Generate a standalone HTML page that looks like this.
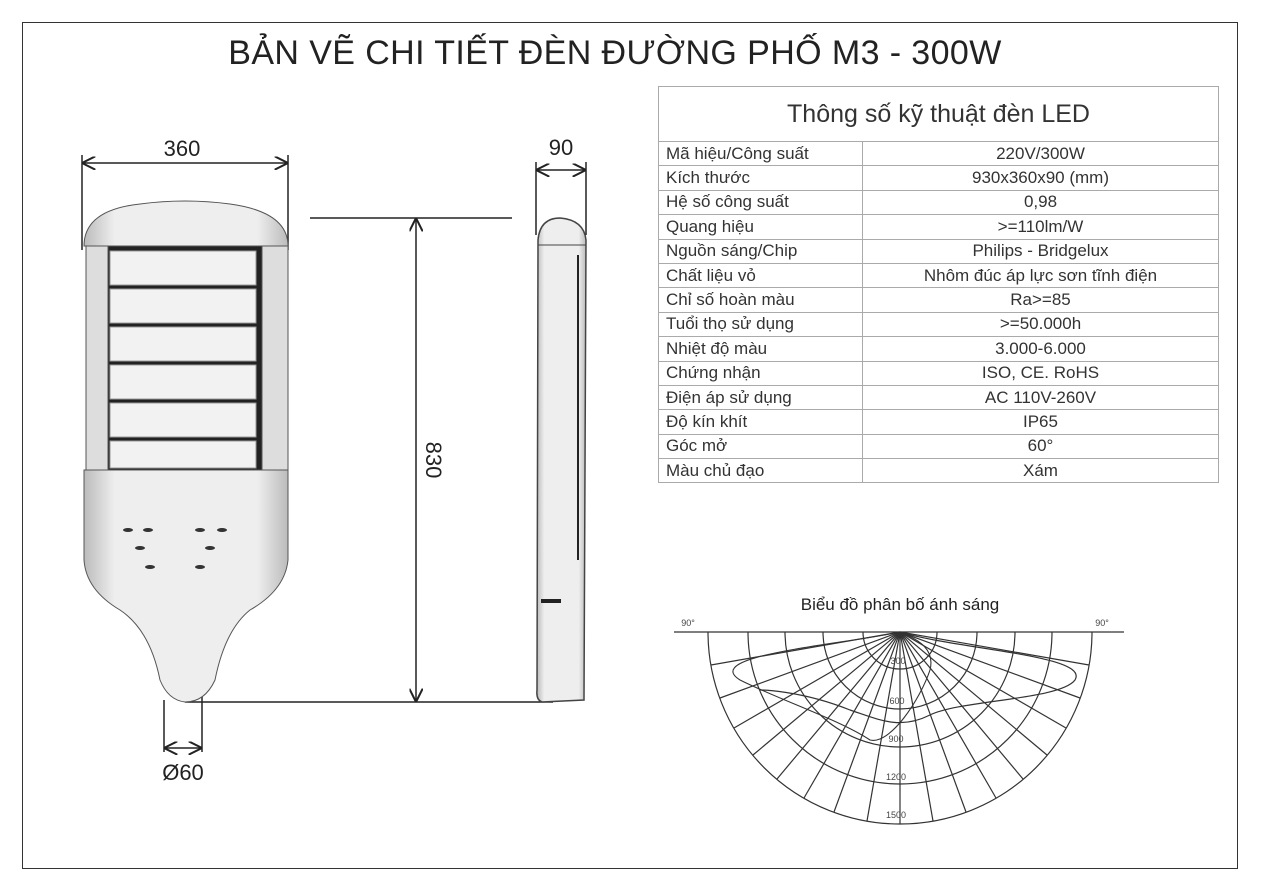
<!DOCTYPE html>
<html><head><meta charset="utf-8"><style>
html,body{margin:0;padding:0;background:#fff;}
body{width:1262px;height:892px;position:relative;overflow:hidden;font-family:"Liberation Sans","DejaVu Sans",sans-serif;color:#222;}
.frame{position:absolute;left:22px;top:22px;width:1216px;height:847px;border:1.5px solid #333;box-sizing:border-box;}
.title{position:absolute;left:0;width:1230px;top:34px;text-align:center;font-size:34px;letter-spacing:0.4px;color:#222;}
table{position:absolute;left:658px;top:86px;width:561px;border-collapse:collapse;font-size:17px;color:#333;}
td{border:1px solid #aaa;height:23.4px;padding:0 0 0 7px;line-height:22px;}
td.v{text-align:center;padding:0;}
td.h{height:54px;text-align:center;font-size:25px;padding:0;}
</style></head><body>
<div class="frame"></div>
<div class="title">BẢN VẼ CHI TIẾT ĐÈN ĐƯỜNG PHỐ M3 - 300W</div>
<table>
<tr><td class="h" colspan="2">Thông số kỹ thuật đèn LED</td></tr>
<tr><td style="width:196px">Mã hiệu/Công suất</td><td class="v">220V/300W</td></tr>
<tr><td>Kích thước</td><td class="v">930x360x90 (mm)</td></tr>
<tr><td>Hệ số công suất</td><td class="v">0,98</td></tr>
<tr><td>Quang hiệu</td><td class="v">&gt;=110lm/W</td></tr>
<tr><td>Nguồn sáng/Chip</td><td class="v">Philips - Bridgelux</td></tr>
<tr><td>Chất liệu vỏ</td><td class="v">Nhôm đúc áp lực sơn tĩnh điện</td></tr>
<tr><td>Chỉ số hoàn màu</td><td class="v">Ra&gt;=85</td></tr>
<tr><td>Tuổi thọ sử dụng</td><td class="v">&gt;=50.000h</td></tr>
<tr><td>Nhiệt độ màu</td><td class="v">3.000-6.000</td></tr>
<tr><td>Chứng nhận</td><td class="v">ISO, CE. RoHS</td></tr>
<tr><td>Điện áp sử dụng</td><td class="v">AC 110V-260V</td></tr>
<tr><td>Độ kín khít</td><td class="v">IP65</td></tr>
<tr><td>Góc mở</td><td class="v">60°</td></tr>
<tr><td>Màu chủ đạo</td><td class="v">Xám</td></tr>
</table>
<svg width="1262" height="892" style="position:absolute;left:0;top:0" xmlns="http://www.w3.org/2000/svg">
<defs>
<linearGradient id="g" x1="0" x2="1"><stop offset="0" stop-color="#bbb"/><stop offset="0.15" stop-color="#eee"/><stop offset="0.85" stop-color="#eee"/><stop offset="1" stop-color="#bbb"/></linearGradient>
<marker id="a" viewBox="0 0 10 10" refX="10" refY="5" markerWidth="9" markerHeight="9" orient="auto-start-reverse"><path d="M0,0 L10,5 L0,10" fill="none" stroke="#222" stroke-width="1.5"/></marker>
</defs>
<g stroke="#222" stroke-width="1.5" fill="none">
<line x1="82" y1="163" x2="288" y2="163" marker-start="url(#a)" marker-end="url(#a)"/>
<line x1="82" y1="155" x2="82" y2="250"/><line x1="288" y1="155" x2="288" y2="250"/>
<line x1="536" y1="170" x2="586" y2="170" marker-start="url(#a)" marker-end="url(#a)"/>
<line x1="536" y1="162" x2="536" y2="235"/><line x1="586" y1="162" x2="586" y2="235"/>
<line x1="310" y1="218" x2="512" y2="218"/>
<line x1="416" y1="218" x2="416" y2="702" marker-start="url(#a)" marker-end="url(#a)"/>
<line x1="185" y1="702" x2="553" y2="702"/>
<line x1="164" y1="700" x2="164" y2="752"/><line x1="202" y1="690" x2="202" y2="752"/>
<line x1="164" y1="748" x2="202" y2="748" marker-start="url(#a)" marker-end="url(#a)"/>
</g>
<g font-size="22" fill="#222" text-anchor="middle">
<text x="182" y="156">360</text>
<text x="561" y="155">90</text>
<text x="183" y="780">Ø60</text>
<text x="0" y="0" transform="translate(426,460) rotate(90)">830</text>
</g>
<g stroke="#555" stroke-width="1">
<path d="M84,246 Q84,210 140,204 Q185,198 230,204 Q288,212 288,246 Z" fill="url(#g)"/>
<path d="M84,470 L288,470 L288,560 Q285,590 250,610 Q225,630 215,680 Q205,702 185,702 Q168,700 160,680 Q150,630 120,610 Q86,590 84,560 Z" fill="url(#g)"/>
<rect x="86" y="246" width="22" height="224" fill="#ddd"/>
<rect x="262" y="246" width="26" height="224" fill="#ddd"/>
<rect x="108" y="246" width="154" height="224" fill="#222"/>
</g>
<g fill="#f2f2f2" stroke="#999">
<rect x="110" y="251" width="146" height="34"/><rect x="110" y="289" width="146" height="34"/>
<rect x="110" y="327" width="146" height="34"/><rect x="110" y="365" width="146" height="34"/>
<rect x="110" y="403" width="146" height="34"/><rect x="110" y="441" width="146" height="27"/>
</g>
<g fill="#333">
<ellipse cx="128" cy="530" rx="5" ry="2"/><ellipse cx="148" cy="530" rx="5" ry="2"/><ellipse cx="200" cy="530" rx="5" ry="2"/><ellipse cx="222" cy="530" rx="5" ry="2"/>
<ellipse cx="140" cy="548" rx="5" ry="2"/><ellipse cx="210" cy="548" rx="5" ry="2"/>
<ellipse cx="150" cy="567" rx="5" ry="2"/><ellipse cx="200" cy="567" rx="5" ry="2"/>
</g>
<path d="M538,240 Q540,218 560,218 Q584,220 586,240 L584,700 L542,702 Q536,700 537,690 Z" fill="url(#g)" stroke="#444" stroke-width="1.5"/>
<line x1="538" y1="245" x2="586" y2="245" stroke="#444"/>
<line x1="578" y1="255" x2="578" y2="560" stroke="#222" stroke-width="2"/>
<rect x="541" y="599" width="20" height="4" fill="#222"/>
<text x="900" y="610" font-size="17" text-anchor="middle" fill="#222">Biểu đồ phân bố ánh sáng</text>
<text x="688" y="626" font-size="9" text-anchor="middle" fill="#444">90°</text>
<text x="1102" y="626" font-size="9" text-anchor="middle" fill="#444">90°</text>
<g stroke="#333" stroke-width="1.2" fill="none">
<line x1="674" y1="632" x2="1124" y2="632"/>
<path d="M863,632 A37,37 0 0 0 937,632"/>
<path d="M823,632 A77,77 0 0 0 977,632"/>
<path d="M785,632 A115,115 0 0 0 1015,632"/>
<path d="M748,632 A152,152 0 0 0 1052,632"/>
<path d="M708,632 A192,192 0 0 0 1092,632"/>
<line x1="900" y1="632" x2="900" y2="824"/>
<line x1="900" y1="632" x2="933" y2="821"/><line x1="900" y1="632" x2="867" y2="821"/>
<line x1="900" y1="632" x2="966" y2="812"/><line x1="900" y1="632" x2="834" y2="812"/>
<line x1="900" y1="632" x2="996" y2="798"/><line x1="900" y1="632" x2="804" y2="798"/>
<line x1="900" y1="632" x2="1023" y2="779"/><line x1="900" y1="632" x2="777" y2="779"/>
<line x1="900" y1="632" x2="1047" y2="755"/><line x1="900" y1="632" x2="753" y2="755"/>
<line x1="900" y1="632" x2="1066" y2="728"/><line x1="900" y1="632" x2="734" y2="728"/>
<line x1="900" y1="632" x2="1080" y2="698"/><line x1="900" y1="632" x2="720" y2="698"/>
<line x1="900" y1="632" x2="1089" y2="665"/><line x1="900" y1="632" x2="711" y2="665"/>
<path d="M900,632 C840,645 700,655 740,680 C780,700 840,720 870,740 C890,745 920,700 930,670 C935,650 920,640 900,632" stroke-width="1.1"/>
<path d="M900,632 C960,650 1090,655 1075,680 C1060,700 960,700 930,715 C900,730 880,720 850,710 C800,690 760,690 760,690"/>
</g>
<g font-size="9" fill="#444" text-anchor="middle">
<text x="898" y="664">300</text><text x="897" y="704">600</text><text x="896" y="742">900</text><text x="896" y="780">1200</text><text x="896" y="818">1500</text>
</g>
</svg>
</body></html>
